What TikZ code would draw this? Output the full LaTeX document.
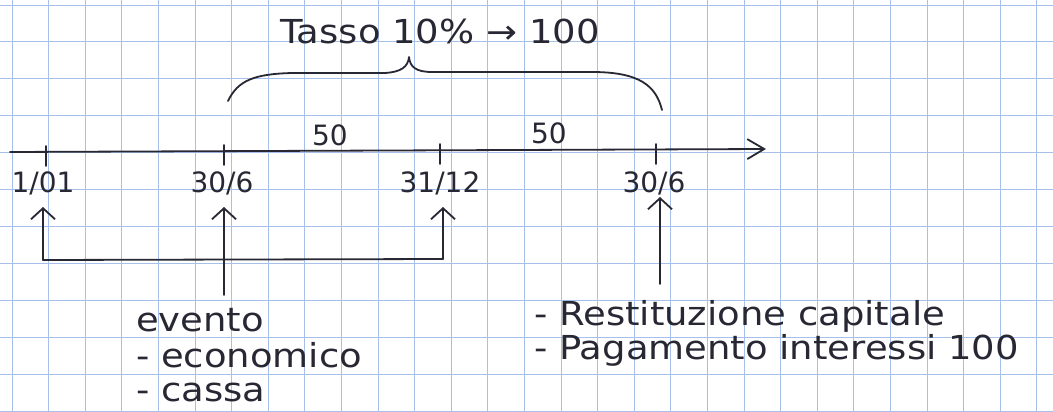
\documentclass[tikz,border=0pt]{standalone}
\usepackage{fontspec}
\setmainfont{DejaVu Sans}
\newfontfamily\handfont[FakeStretch=1.12]{DejaVu Sans}
\usetikzlibrary{arrows.meta}
\definecolor{ink}{RGB}{40,40,52}
\definecolor{gridblue}{RGB}{165,192,235}
\tikzset{
  gridline/.style={draw=gridblue, line width=0.9pt},
  inkline/.style={draw=ink, line width=1.8pt, line cap=round, line join=round},
  uparrow/.style={inkline, -{Straight Barb[length=11pt,width=24pt,line width=1.8pt]}},
  axisarrow/.style={inkline, -{Straight Barb[length=17pt,width=20pt,line width=1.8pt]}},
  datelbl/.style={text=ink, font=\fontsize{28}{30}\selectfont, inner sep=0pt, anchor=base},
  handtxt/.style={text=ink, font=\handfont\fontsize{33}{36}\selectfont, inner sep=0pt, anchor=base west},
}
\begin{document}
\begin{tikzpicture}[x=1pt,y=-1pt]
\useasboundingbox (0,0) rectangle (1053,412);
\fill[white] (0,0) rectangle (1053,412);
% graph paper
\foreach \i in {0,...,28} { \draw[gridline] ({12+36.6*\i},0) -- ({12+36.6*\i},412); }
\foreach \j in {0,...,11} { \draw[gridline] (0,{5+36.95*\j}) -- (1053,{5+36.95*\j}); }
% axis
\coordinate (axL) at (10,152);
\coordinate (axR) at (766,149);
\draw[axisarrow] (axL) -- (axR);
% ticks
\coordinate (k1) at (46,152);
\coordinate (k2) at (224,151);
\coordinate (k3) at (440,150);
\coordinate (k4) at (656,150);
\foreach \k in {k1,k2,k3,k4} { \draw[inkline] ([yshift=-14pt]\k) -- ([yshift=6pt]\k); }
% date labels
\node[datelbl] (d1) at (43,192) {1/01};
\node[datelbl] (d2) at (222,192) {30/6};
\node[datelbl] (d3) at (440,192) {31/12};
\node[datelbl] (d4) at (654,192) {30/6};
% period amounts
\node[datelbl] (p1) at (330,145) {50};
\node[datelbl] (p2) at (549,143) {50};
% brace
\coordinate (bL) at (228,101);
\coordinate (bP) at (409,57);
\coordinate (bR) at (662,110);
\draw[inkline] (bL) .. controls (238,80) and (255,74) .. (292,73) -- (385,73)
  .. controls (401,72) and (408,67) .. (bP)
  .. controls (410,67) and (416,72) .. (432,72) -- (592,72)
  .. controls (640,72) and (656,86) .. (bR);
\node[handtxt, anchor=base] (tasso) at (440,44) {Tasso 10\% → 100};
% arrows up
\coordinate (t1) at (43,207);
\coordinate (t2) at (224,207);
\coordinate (t3) at (443,207);
\coordinate (t4) at (660,197);
\coordinate (c1) at (43,260);
\coordinate (c3) at (443,259);
\coordinate (e2) at (224,295);
\coordinate (e4) at (660,284);
\draw[uparrow] (c1) -- (t1);
\draw[uparrow] (c3) -- (t3);
\draw[inkline] (c1) -- (c3);
\draw[uparrow] (e2) -- (t2);
\draw[uparrow] (e4) -- (t4);
% left text
\node[handtxt] (ev1) at (136,331) {evento};
\node[handtxt] (ev2) at (136,367) {- economico};
\node[handtxt] (ev3) at (136,401) {- cassa};
% right text
\node[handtxt] (r1) at (534,325) {- Restituzione capitale};
\node[handtxt] (r2) at (534,359) {- Pagamento interessi 100};
\end{tikzpicture}
\end{document}
